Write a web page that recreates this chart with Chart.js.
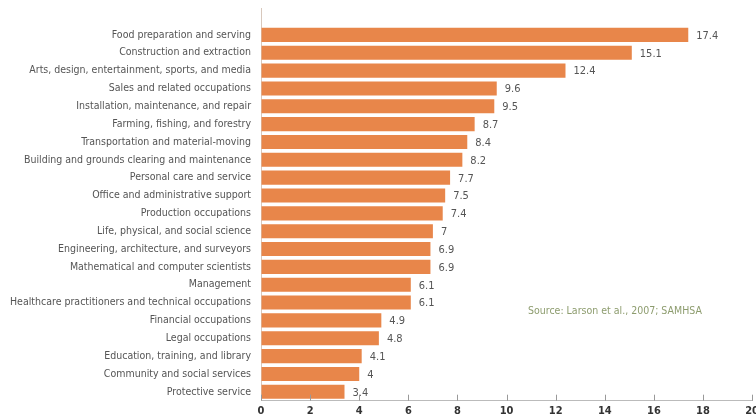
<!DOCTYPE html>
<html>
<head>
<meta charset="utf-8">
<script src="https://cdn.jsdelivr.net/npm/chart.js@4/dist/chart.umd.min.js"></script>
<style>
    html, body { margin: 0; padding: 0; background: #fff; overflow: hidden; }
    #wrap { position: relative; width: 756px; height: 417px; }
    #source {
        position: absolute; left: 528px; top: 304px;
        font: 10.5px "Liberation Sans Narrow", "DejaVu Sans Condensed", sans-serif;
        color: #8d9c6e;
    }
</style>
</head>
<body>
<div id="wrap">
    <canvas id="chart1" width="763" height="417"></canvas>
    <div id="source">Source:  Larson et al., 2007; SAMHSA</div>
</div>
<script>
(function() {
    const occupations = [
        "Food preparation and serving",
        "Construction and extraction",
        "Arts, design, entertainment, sports, and media",
        "Sales and related occupations",
        "Installation, maintenance, and repair",
        "Farming, fishing, and forestry",
        "Transportation and material-moving",
        "Building and grounds clearing and maintenance",
        "Personal care and service",
        "Office and administrative support",
        "Production occupations",
        "Life, physical, and social science",
        "Engineering, architecture, and surveyors",
        "Mathematical and computer scientists",
        "Management",
        "Healthcare practitioners and technical occupations",
        "Financial occupations",
        "Legal occupations",
        "Education, training, and library",
        "Community and social services",
        "Protective service"
    ]
    const percents = [17.4, 15.1, 12.4, 9.6, 9.5, 8.7, 8.4, 8.2, 7.7, 7.5, 7.4,
        7, 6.9, 6.9, 6.1, 6.1, 4.9, 4.8, 4.1, 4, 3.4]
    const xTicks = [0, 2, 4, 6, 8, 10, 12, 14, 16, 18, 20]

    const narrow = '"Liberation Sans Narrow", "DejaVu Sans Condensed", sans-serif'

    // value labels at bar ends + small upward ticks on the x axis
    const extras = {
        id: "extras",
        afterDatasetsDraw(chart) {
            const ctx = chart.ctx
            const meta = chart.getDatasetMeta(0)
            const area = chart.chartArea
            ctx.save()
            ctx.font = "11px " + narrow
            ctx.fillStyle = "#555"
            ctx.textBaseline = "middle"
            meta.data.forEach((bar, i) => {
                ctx.fillText(String(percents[i]), bar.x + 8, bar.y + 1)
            })
            const xs = chart.scales.x
            ctx.strokeStyle = "#999"
            ctx.lineWidth = 1
            for (const t of xTicks) {
                const px = Math.round(xs.getPixelForValue(t)) + 0.5
                ctx.beginPath()
                ctx.moveTo(px, area.bottom)
                ctx.lineTo(px, area.bottom - 6)
                ctx.stroke()
            }
            // y axis line runs a bit above the first bar
            ctx.strokeStyle = "#d8c8bc"
            ctx.beginPath()
            ctx.moveTo(Math.round(area.left) + 0.5, area.top)
            ctx.lineTo(Math.round(area.left) + 0.5, 8)
            ctx.stroke()
            ctx.restore()
        }
    }

    const chart = {
        "type": "bar",
        "data": {
            "labels": occupations,
            "datasets": [{
                "data": percents,
                "backgroundColor": "#e8864a",
                "borderWidth": 0,
                "barPercentage": 0.79,
                "categoryPercentage": 1.0
            }]
        },
        "options": {
            "indexAxis": "y",
            "responsive": false,
            "animation": false,
            "layout": {
                "padding": { "top": 26, "left": 0, "right": 10, "bottom": -5 }
            },
            "scales": {
                "x": {
                    "min": 0,
                    "max": 20,
                    "afterBuildTicks": (axis) => {
                        axis.ticks = xTicks.map(v => ({ value: v }))
                    },
                    "grid": {
                        "display": true,
                        "drawOnChartArea": false,
                        "drawTicks": false
                    },
                    "border": { "color": "#bbb", "width": 1 },
                    "ticks": {
                        "padding": 4,
                        "color": "#333",
                        "font": { "family": narrow, "size": 11, "weight": "bold" }
                    }
                },
                "y": {
                    "grid": { "display": false, "drawTicks": false },
                    "border": { "color": "#d8c8bc", "width": 1 },
                    "ticks": {
                        "padding": 10,
                        "color": "#555",
                        "autoSkip": false,
                        "font": { "family": narrow, "size": 10.5 }
                    }
                }
            },
            "plugins": {
                "legend": { "display": false },
                "tooltip": { "enabled": false }
            }
        },
        "plugins": [extras]
    }

    const ctx = document.getElementById("chart1").getContext("2d")
    new Chart(ctx, chart)
})()
</script>
</body>
</html>
